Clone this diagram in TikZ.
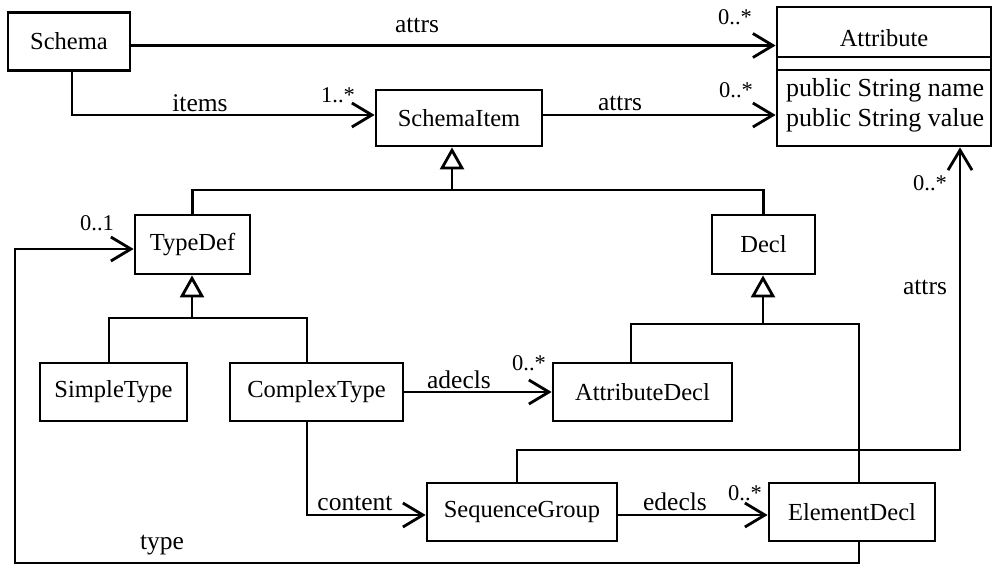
\documentclass[tikz,border=0pt]{standalone}
\usepackage{fontspec}
\setmainfont{Liberation Serif}
\usetikzlibrary{arrows.meta}
\begin{document}
\begin{tikzpicture}[x=1pt,y=-1pt,
  cls/.style={draw, line width=2.8pt, inner sep=0pt, font=\fontsize{24.5}{28}\selectfont},
  lbl/.style={inner sep=0pt, font=\fontsize{25.5}{29}\selectfont},
  attrtxt/.style={inner sep=0pt, anchor=west, font=\fontsize{26}{30}\selectfont},
  mult/.style={inner sep=0pt, font=\fontsize{22.5}{26}\selectfont},
  conn/.style={line width=2.8pt},
  assoc/.style={conn, -{Straight Barb[length=20pt,width=24pt]}},
  gen/.style={conn, -{Triangle[open,length=22pt,width=24pt,fill=white]}}]
\useasboundingbox (0,0) rectangle (994,565);
% classes
\node[cls, minimum width=122pt, minimum height=58pt] (Schema) at (69,41.5) {Schema};
\node[cls, minimum width=166pt, minimum height=56pt] (SchemaItem) at (459,118) {SchemaItem};
\node[cls, minimum width=214pt, minimum height=139pt] (Attribute) at (884,76.5) {};
\node[cls, draw=none, inner sep=0pt] (AttrTitle) at (884,38) {Attribute};
\node[attrtxt] (AttrName) at (786,90) {public String name};
\node[attrtxt] (AttrValue) at (786,120) {public String value};
\draw[conn] (Attribute.west |- AttrTitle) ++(0,19) coordinate (s1a) -- (s1a -| Attribute.east);
\draw[conn] (Attribute.west |- AttrTitle) ++(0,32) coordinate (s2a) -- (s2a -| Attribute.east);
\node[cls, minimum width=115pt, minimum height=59pt] (TypeDef) at (192.5,244.5) {TypeDef};
\node[cls, minimum width=103pt, minimum height=59pt] (Decl) at (763.5,244.5) {Decl};
\node[cls, minimum width=147pt, minimum height=58pt] (SimpleType) at (113.5,392) {SimpleType};
\node[cls, minimum width=173pt, minimum height=58pt] (ComplexType) at (316.5,392) {ComplexType};
\node[cls, minimum width=179pt, minimum height=58pt] (AttributeDecl) at (642.5,392) {AttributeDecl};
\node[cls, minimum width=190pt, minimum height=58pt] (SequenceGroup) at (522,512) {SequenceGroup};
\node[cls, minimum width=166pt, minimum height=58pt] (ElementDecl) at (852,512) {ElementDecl};
% associations
\coordinate (sa) at ([yshift=-4pt]Schema.east);
\draw[assoc] (sa) -- (sa -| Attribute.west);
\coordinate (si) at ([xshift=3pt]Schema.south);
\coordinate (sit) at ([yshift=3pt]SchemaItem.west);
\draw[assoc] (si) |- (sit);
\coordinate (ia) at ([yshift=3pt]SchemaItem.east);
\draw[assoc] (ia) -- (ia -| Attribute.west);
% generalizations
\coordinate (j1) at (452,190);
\draw[gen] (j1) -- (j1 |- SchemaItem.south);
\draw[conn] (TypeDef.north) |- (j1) -| (Decl.north);
\coordinate (j2) at (192,318);
\draw[gen] (j2) -- (j2 |- TypeDef.south);
\coordinate (st) at ([xshift=-4.5pt]SimpleType.north);
\coordinate (ct) at ([xshift=-9.5pt]ComplexType.north);
\draw[conn] (st) |- (j2) -| (ct);
\coordinate (j3) at (763,324);
\draw[gen] (j3) -- (j3 |- Decl.south);
\coordinate (ad) at ([xshift=-11.5pt]AttributeDecl.north);
\coordinate (ed) at ([xshift=7pt]ElementDecl.north);
\draw[conn] (ad) |- (j3) -| (ed);
% more associations
\draw[assoc] (ComplexType.east) -- (AttributeDecl.west);
\coordinate (cc) at ([xshift=-9.5pt]ComplexType.south);
\coordinate (sg) at ([yshift=-3pt]SequenceGroup.west);
\draw[assoc] (cc) |- (sg);
\coordinate (se) at ([yshift=-3pt]SequenceGroup.east);
\draw[assoc] (se) -- (se -| ElementDecl.west);
\coordinate (sq) at ([xshift=-5pt]SequenceGroup.north);
\coordinate (ab) at ([xshift=76pt]Attribute.south);
\coordinate (av) at (960,450);
\draw[assoc] (sq) |- (av) -- (ab);
\coordinate (eb) at ([xshift=7pt]ElementDecl.south);
\coordinate (tl) at (15,563);
\coordinate (tt) at ([yshift=-4.5pt]TypeDef.west);
\draw[assoc] (eb) |- (tl) |- (tt);
% labels
\node[lbl] (l1) at (417,25) {attrs};
\node[mult] (m1) at (735,17) {0..*};
\node[lbl] (l2) at (200,103) {items};
\node[mult] (m2) at (338,95) {1..*};
\node[lbl] (l3) at (620,103) {attrs};
\node[mult] (m3) at (736,90) {0..*};
\node[mult] (m4) at (930,183) {0..*};
\node[lbl] (l4) at (925,287) {attrs};
\node[mult] (m5) at (97,223) {0..1};
\node[lbl] (l5) at (459,380) {adecls};
\node[mult] (m6) at (529,363) {0..*};
\node[lbl] (l6) at (355,503) {content};
\node[lbl] (l7) at (675,502) {edecls};
\node[mult] (m7) at (745,493) {0..*};
\node[lbl] (l8) at (162,545) {type};
\end{tikzpicture}
\end{document}
